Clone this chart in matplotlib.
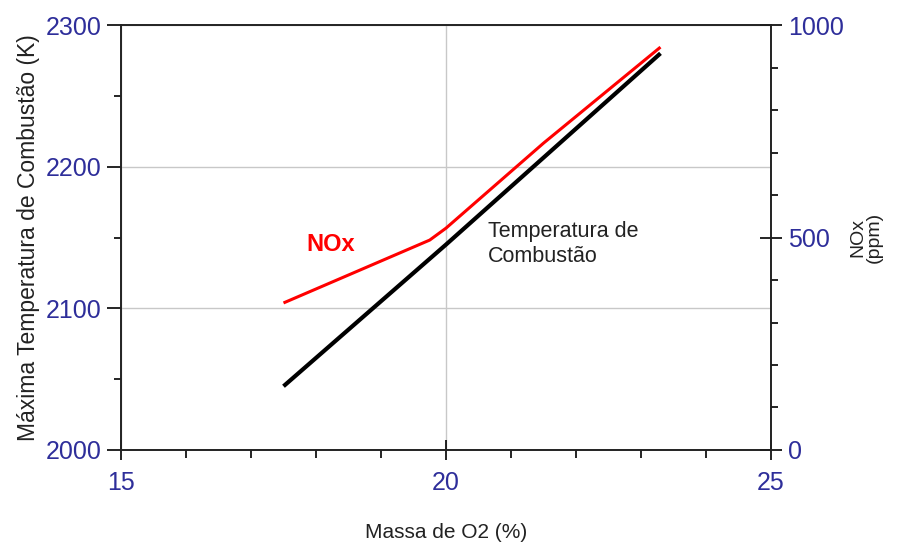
import matplotlib
matplotlib.use("Agg")
import matplotlib.pyplot as plt
from matplotlib.ticker import MultipleLocator

plt.rcParams['font.family'] = ['Liberation Sans', 'DejaVu Sans']

# dados
o2_temp = [17.5, 20.0, 23.3]
temp_k = [2045, 2145, 2280]

o2_nox = [17.5, 19.75, 20.0, 21.5, 23.3]
nox_ppm = [346, 494, 522, 722, 948]

tick_col = '#2e2e9a'
lab_col = '#222222'

fig = plt.figure(figsize=(8.97, 5.44), dpi=100)
ax = fig.add_axes([0.1349, 0.1728, 0.7246, 0.7812])
ax2 = ax.twinx()

ax.plot(o2_temp, temp_k, color='black', lw=3.0, solid_capstyle='butt', zorder=3)
ax2.plot(o2_nox, nox_ppm, color='#ff0000', lw=2.2, solid_capstyle='butt', zorder=4)

ax.set_xlim(15, 25)
ax.set_ylim(2000, 2300)
ax2.set_ylim(0, 1000)

ax.xaxis.set_major_locator(MultipleLocator(5))
ax.xaxis.set_minor_locator(MultipleLocator(1))
ax.yaxis.set_major_locator(MultipleLocator(100))
ax.yaxis.set_minor_locator(MultipleLocator(50))
ax2.yaxis.set_major_locator(MultipleLocator(500))
ax2.yaxis.set_minor_locator(MultipleLocator(100))

ax.grid(True, which='major', color='#c8c8c8', lw=1.0)
ax.set_axisbelow(True)

ax.tick_params(axis='x', which='major', direction='inout', length=14, width=1.2,
               labelsize=18, labelcolor=tick_col, pad=8)
ax.tick_params(axis='x', which='minor', direction='out', length=6, width=1.2)
ax.tick_params(axis='y', which='major', direction='out', length=10, width=1.2,
               labelsize=18, labelcolor=tick_col, pad=4)
ax.tick_params(axis='y', which='minor', direction='out', length=5, width=1.2)
ax2.tick_params(axis='y', which='major', direction='inout', length=16, width=1.2,
                labelsize=18, labelcolor=tick_col, pad=4)
ax2.tick_params(axis='y', which='minor', direction='out', length=5, width=1.2)

for a in (ax, ax2):
    for s in a.spines.values():
        s.set_linewidth(1.2)
        s.set_color('#222222')

ax.set_xlabel('Massa de O2 (%)', fontsize=15, color=lab_col, labelpad=20)
ax.set_ylabel('Máxima Temperatura de Combustão (K)', fontsize=16.5, color=lab_col, labelpad=4)
ax2.set_ylabel('NOx\n(ppm)', fontsize=14, color=lab_col, labelpad=4, linespacing=1.0)

ax.text(17.85, 2145, 'NOx', color='#ff0000', fontsize=17, fontweight='bold',
        va='center', ha='left')
ax.text(20.65, 2162, 'Temperatura de\nCombustão', color=lab_col, fontsize=15.5,
        va='top', ha='left', linespacing=1.25)

fig.savefig('out.png', dpi=100, facecolor='white')
